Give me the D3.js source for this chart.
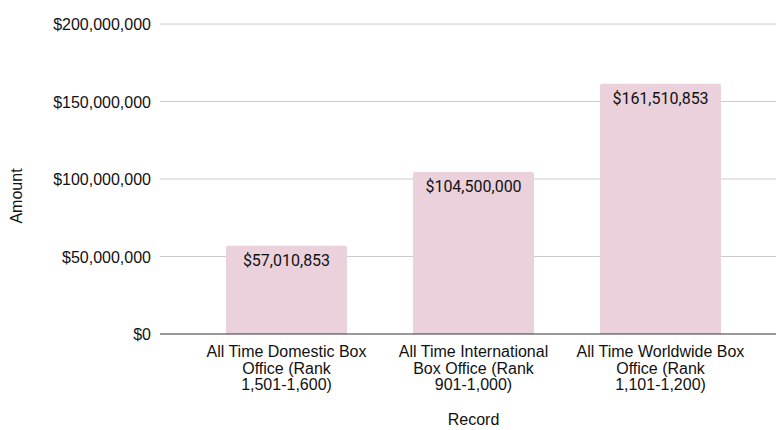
<!DOCTYPE html>
<html>
<head>
<meta charset="utf-8">
<script src="https://cdn.jsdelivr.net/npm/d3@7"></script>
<style>
  body { margin: 0; background: #fff; }
  text { font-family: "Liberation Sans", Arial, sans-serif; }
</style>
</head>
<body>
<svg id="chart" width="776" height="430"></svg>
<script>
var categories = [
  ["All Time Domestic Box", "Office (Rank", "1,501-1,600)"],
  ["All Time International", "Box Office (Rank", "901-1,000)"],
  ["All Time Worldwide Box", "Office (Rank", "1,101-1,200)"]
];
var amounts = [57010853, 104500000, 161510853];
var yTicks = [0, 50000000, 100000000, 150000000, 200000000];

var svg = d3.select("#chart");
var plotLeft = 160, plotRight = 776, plotTop = 24, plotBottom = 334;

var x = d3.scaleBand()
    .domain(d3.range(amounts.length))
    .range([193, 754])
    .paddingInner(0.353)
    .paddingOuter(0.1765);

var y = d3.scaleLinear().domain([0, 200000000]).range([plotBottom, plotTop]);
var money = d3.format("$,");

// gridlines
svg.append("g").selectAll("line")
    .data(yTicks.slice(1))
    .enter().append("line")
    .attr("x1", plotLeft).attr("x2", plotRight)
    .attr("y1", function (d) { return y(d); })
    .attr("y2", function (d) { return y(d); })
    .attr("stroke", "#cccccc").attr("stroke-width", 1);

// y tick labels
svg.append("g").selectAll("text")
    .data(yTicks)
    .enter().append("text")
    .attr("x", 151)
    .attr("y", function (d) { return y(d) + 6; })
    .attr("text-anchor", "end")
    .attr("font-size", 16)
    .attr("fill", "#111")
    .text(function (d) { return money(d); });

// bars
var bars = svg.append("g").selectAll("g")
    .data(amounts)
    .enter().append("g");

bars.append("path")
    .attr("fill", "#ead1dc")
    .attr("d", function (d, i) {
        var x0 = x(i), w = x.bandwidth(), y0 = y(d), r = 2;
        return "M" + x0 + "," + plotBottom +
            "V" + (y0 + r) +
            "Q" + x0 + "," + y0 + " " + (x0 + r) + "," + y0 +
            "H" + (x0 + w - r) +
            "Q" + (x0 + w) + "," + y0 + " " + (x0 + w) + "," + (y0 + r) +
            "V" + plotBottom + "Z";
    });

bars.append("text")
    .attr("x", function (d, i) { return x(i) + x.bandwidth() / 2; })
    .attr("y", function (d) { return y(d) + 20; })
    .attr("text-anchor", "middle")
    .attr("font-size", 16)
    .attr("fill", "#111")
    .style("font-family", "Roboto, sans-serif")
    .text(function (d) { return money(d); });

// baseline
svg.append("line")
    .attr("x1", plotLeft).attr("x2", plotRight)
    .attr("y1", plotBottom).attr("y2", plotBottom)
    .attr("stroke", "#333").attr("stroke-width", 1);

// x tick labels
svg.append("g").selectAll("text")
    .data(categories)
    .enter().append("text")
    .attr("text-anchor", "middle")
    .attr("font-size", 16)
    .attr("fill", "#111")
    .each(function (lines, i) {
        var t = d3.select(this);
        lines.forEach(function (l, j) {
            t.append("tspan")
                .attr("x", x(i) + x.bandwidth() / 2)
                .attr("y", 357 + j * 16.7)
                .text(l);
        });
    });

// axis titles
svg.append("text")
    .attr("x", x(1) + x.bandwidth() / 2)
    .attr("y", 425)
    .attr("text-anchor", "middle")
    .attr("font-size", 16)
    .attr("fill", "#111")
    .text("Record");

svg.append("text")
    .attr("transform", "translate(22,196) rotate(-90)")
    .attr("text-anchor", "middle")
    .attr("font-size", 16)
    .attr("fill", "#111")
    .text("Amount");
</script>
</body>
</html>
